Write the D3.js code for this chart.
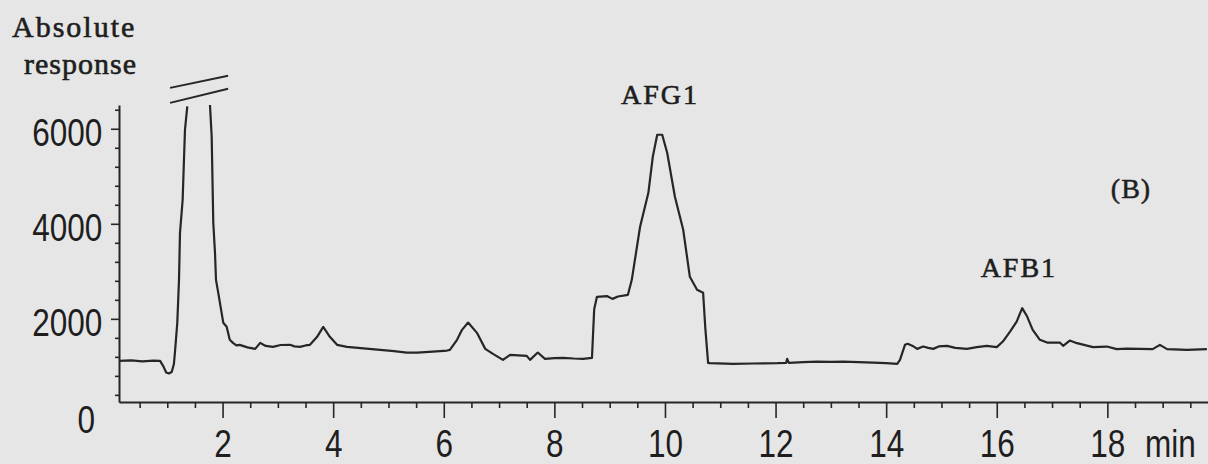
<!DOCTYPE html>
<html>
<head>
<meta charset="utf-8">
<script src="https://cdn.jsdelivr.net/npm/d3@7"></script>
<style>
  body { margin: 0; background: #e6e6e6; }
  svg { display: block; }
</style>
</head>
<body>
<div id="chart"></div>
<script>
// retention time (min) and detector response
// null marks the off-scale part of the solvent front
const time = [
    0.13, 0.35, 0.55, 0.75, 0.87, 0.93, 0.98, 1.03, 1.08, 1.12,
    1.139, 1.181, 1.212, 1.23, 1.278, 1.32, 1.362, 1.55, 1.772, 1.803,
    1.832, 1.863, 1.881, 1.922, 2.013, 2.074, 2.13, 2.188, 2.25, 2.31,
    2.45, 2.59, 2.68, 2.78, 2.91, 3.05, 3.22, 3.30, 3.40, 3.50,
    3.58, 3.71, 3.82, 3.94, 4.07, 4.25, 4.55, 4.85, 5.10, 5.33,
    5.52, 5.80, 6.06, 6.11, 6.24, 6.33, 6.44, 6.60, 6.75, 6.89,
    7.07, 7.20, 7.35, 7.50, 7.56, 7.70, 7.83, 8.00, 8.16, 8.35,
    8.52, 8.68, 8.72, 8.77, 8.95, 9.05, 9.15, 9.33, 9.40, 9.55,
    9.70, 9.78, 9.86, 9.95, 10.04, 10.18, 10.33, 10.45, 10.58, 10.69,
    10.73, 10.78, 10.81, 11.23, 11.60, 12.03, 12.19, 12.21, 12.24, 12.50,
    12.75, 13.00, 13.22, 13.50, 13.76, 14.00, 14.20, 14.25, 14.34, 14.39,
    14.48, 14.56, 14.67, 14.76, 14.85, 14.95, 15.10, 15.25, 15.46, 15.64,
    15.82, 16.00, 16.11, 16.24, 16.36, 16.46, 16.55, 16.65, 16.78, 16.91,
    17.14, 17.20, 17.32, 17.45, 17.74, 17.99, 18.17, 18.35, 18.82, 18.95,
    19.08, 19.44, 19.80
];
const response = [
    1116, 1125, 1105, 1120, 1116, 1000, 870, 850, 880, 1050,
    1300, 1916, 2821, 3811, 4505, 5979, 6469, null, 6505, 5838,
    4021, 3389, 2821, 2547, 1916, 1832, 1560, 1495, 1440, 1453,
    1400, 1368, 1495, 1430, 1411, 1450, 1453, 1420, 1411, 1440,
    1453, 1621, 1832, 1621, 1453, 1411, 1380, 1347, 1320, 1291,
    1291, 1310, 1333, 1347, 1558, 1768, 1922, 1705, 1368, 1263,
    1137, 1242, 1230, 1221, 1137, 1291, 1158, 1175, 1179, 1165,
    1158, 1179, 2200, 2463, 2480, 2420, 2470, 2505, 2821, 3937,
    4653, 5411, 5874, 5874, 5495, 4568, 3874, 2884, 2611, 2547,
    1800, 1074, 1067, 1053, 1060, 1067, 1074, 1158, 1074, 1090,
    1101, 1095, 1101, 1090, 1080, 1070, 1053, 1137, 1453, 1474,
    1430, 1368, 1417, 1390, 1368, 1420, 1432, 1390, 1368, 1404,
    1432, 1404, 1522, 1733, 1943, 2225, 2048, 1768, 1558, 1501,
    1501, 1432, 1543, 1488, 1404, 1417, 1362, 1375, 1362, 1453,
    1362, 1347, 1362
];

const xMajorTicks = [2, 4, 6, 8, 10, 12, 14, 16, 18];
const xMinorTicks = d3.range(0.5, 19.9, 0.5).filter(t => t % 2 !== 0);
const yMajorTicks = [2000, 4000, 6000];
const yMinorTicks = d3.range(400, 6500, 400).filter(v => v % 2000 !== 0);

const peakNames = ["AFG1", "AFB1"];
const peakTimes = [9.91, 16.4];

// axis break drawn over the solvent front (time, response pairs)
const breakTimes = [1.05, 2.1];
const breakLower = [6545, 6840];
const breakUpper = [6860, 7115];

const width = 1208, height = 464;
const ink = "#262626";
const textInk = "#1e1e1e";
const squeeze = 0.83;   // tick digits in the reference are narrow

const svg = d3.select("#chart")
    .append("svg")
    .attr("width", width)
    .attr("height", height);

svg.append("rect")
    .attr("width", width)
    .attr("height", height)
    .attr("fill", "#e6e6e6");

const x = d3.scaleLinear().domain([0.127, 19.82]).range([119, 1208]);
const y = d3.scaleLinear().domain([250, 6500]).range([402, 105]);

const tickFont = "'Liberation Sans', Arial, sans-serif";
const serif = "'Liberation Serif', 'Times New Roman', serif";

// y axis: minor then major ticks
svg.append("g")
    .attr("transform", `translate(${x.range()[0]},0)`)
    .call(d3.axisLeft(y).tickValues(yMinorTicks).tickSize(4).tickSizeOuter(0).tickFormat(""))
    .call(g => g.select(".domain").remove())
    .selectAll("line").attr("stroke", ink).attr("stroke-width", 1.6);

const yAxis = svg.append("g")
    .attr("transform", `translate(${x.range()[0]},0)`)
    .call(d3.axisLeft(y).tickValues(yMajorTicks).tickSize(8).tickSizeOuter(0).tickFormat(d3.format("d")));
yAxis.select(".domain").attr("stroke", ink).attr("stroke-width", 2);
yAxis.selectAll("line").attr("stroke", ink).attr("stroke-width", 1.6);
yAxis.selectAll("text")
    .attr("font-family", tickFont)
    .attr("font-size", 38)
    .attr("fill", textInk)
    .attr("x", -20)
    .attr("dy", 17)
    .attr("transform", `scale(${squeeze},1)`);

svg.append("text")
    .attr("x", 95 / squeeze)
    .attr("y", y(0) + 19)
    .attr("text-anchor", "end")
    .attr("font-family", tickFont)
    .attr("font-size", 38)
    .attr("fill", textInk)
    .attr("transform", `scale(${squeeze},1)`)
    .text("0");

// x axis
svg.append("g")
    .attr("transform", `translate(0,${y.range()[0]})`)
    .call(d3.axisBottom(x).tickValues(xMinorTicks).tickSize(6).tickSizeOuter(0).tickFormat(""))
    .call(g => g.select(".domain").remove())
    .selectAll("line").attr("stroke", ink).attr("stroke-width", 1.6);

const xAxis = svg.append("g")
    .attr("transform", `translate(0,${y.range()[0]})`)
    .call(d3.axisBottom(x).tickValues(xMajorTicks).tickSize(16).tickSizeOuter(0).tickFormat(d3.format("d")));
xAxis.select(".domain").attr("stroke", ink).attr("stroke-width", 2);
xAxis.selectAll("line").attr("stroke", ink).attr("stroke-width", 1.6);
xAxis.selectAll("text")
    .attr("font-family", tickFont)
    .attr("font-size", 38)
    .attr("fill", textInk)
    .attr("x", 0)
    .attr("y", 55)
    .attr("dy", 0)
    .attr("transform", `scale(${squeeze},1)`);

svg.append("text")
    .attr("x", 1145 / squeeze)
    .attr("y", y.range()[0] + 55)
    .attr("font-family", tickFont)
    .attr("font-size", 38)
    .attr("fill", textInk)
    .attr("transform", `scale(${squeeze},1)`)
    .text("min");

// trace
svg.append("clipPath")
    .attr("id", "plot-clip")
    .append("rect")
    .attr("x", x.range()[0])
    .attr("y", y.range()[1])
    .attr("width", width - x.range()[0])
    .attr("height", y.range()[0] - y.range()[1]);

const points = time.map((t, i) => [t, response[i]]);
const line = d3.line()
    .defined(d => d[1] != null)
    .x(d => x(d[0]))
    .y(d => y(d[1]));

svg.append("path")
    .datum(points)
    .attr("clip-path", "url(#plot-clip)")
    .attr("fill", "none")
    .attr("stroke", "#262626")
    .attr("stroke-width", 2.2)
    .attr("stroke-linejoin", "round")
    .attr("d", line);

// break marks over the off-scale peak
[breakLower, breakUpper].forEach(vals => {
    svg.append("line")
        .attr("x1", x(breakTimes[0])).attr("y1", y(vals[0]))
        .attr("x2", x(breakTimes[1])).attr("y2", y(vals[1]))
        .attr("stroke", ink)
        .attr("stroke-width", 2);
});

// peak names, placed above the local maximum
peakNames.forEach((name, i) => {
    const near = points.filter(d => d[1] != null && Math.abs(d[0] - peakTimes[i]) < 0.4);
    const top = d3.max(near, d => d[1]);
    svg.append("text")
        .attr("x", x(peakTimes[i]))
        .attr("y", y(top) - 31)
        .attr("text-anchor", "middle")
        .attr("font-family", serif)
        .attr("font-size", 28)
        .attr("letter-spacing", 2)
        .attr("fill", textInk)
        .attr("stroke", textInk)
        .attr("stroke-width", 0.6)
        .text(name);
});

svg.append("text")
    .attr("x", 1131)
    .attr("y", 198)
    .attr("text-anchor", "middle")
    .attr("font-family", serif)
    .attr("font-size", 28)
    .attr("letter-spacing", 1)
    .attr("fill", textInk)
    .attr("stroke", textInk)
    .attr("stroke-width", 0.5)
    .text("(B)");

// y axis title
const title = svg.append("text")
    .attr("font-family", serif)
    .attr("font-size", 30)
    .attr("fill", textInk)
    .attr("stroke", textInk)
    .attr("stroke-width", 0.6);
title.append("tspan").attr("x", 12).attr("y", 37).attr("letter-spacing", 2).text("Absolute");
title.append("tspan").attr("x", 24).attr("y", 74).attr("letter-spacing", 1).text("response");
</script>
</body>
</html>
